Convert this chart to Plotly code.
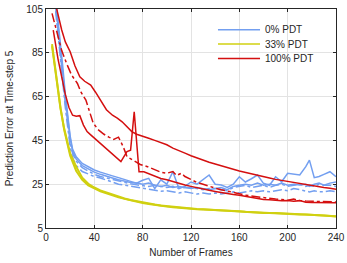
import plotly.graph_objects as go

# ---------------- data ----------------
fr_y = [5, 8, 10, 12, 15, 18, 20, 25, 30, 35, 40, 45, 50, 55, 60, 65, 70, 75, 80, 85, 90, 95, 100,
        105, 110, 115, 120, 125, 130, 135, 140, 145, 150, 155, 160, 165, 170, 175, 180, 185, 190,
        195, 200, 205, 210, 215, 220, 225, 230, 235, 240]
y33_a = [89, 76, 68, 60, 50, 42, 38, 31, 27, 24.5, 23, 21.8, 20.8, 19.8, 19, 18.3, 17.6, 17, 16.4, 16,
         15.5, 15.1, 14.8, 14.5, 14.2, 14.0, 13.8, 13.6, 13.5, 13.4, 13.3, 13.2, 13.1, 12.9, 12.6, 12.4,
         12.2, 12.1, 12.0, 11.9, 11.8, 11.7, 11.5, 11.4, 11.3, 11.1, 11.0, 10.9, 10.7, 10.5, 10.3]
y33_b = [88, 75, 67, 59.5, 50.5, 43, 39, 33, 28, 25.2, 23.5, 22.2, 21.2, 20.2, 19.3, 18.5, 17.8, 17.2, 16.7, 16.2,
         15.7, 15.3, 15.0, 14.6, 14.4, 14.1, 13.9, 13.7, 13.6, 13.4, 13.2, 13.1, 13.0, 12.8, 12.5, 12.4,
         12.3, 12.1, 11.9, 11.9, 11.7, 11.6, 11.5, 11.3, 11.2, 11.2, 11.0, 10.8, 10.7, 10.6, 10.4]

fr_b = [8, 10, 12, 14, 16, 18, 20, 22, 25, 30, 35, 40, 45, 50, 55, 60, 65, 70, 75, 80, 85, 90, 95, 100,
        105, 110, 115, 120, 125, 130, 135, 140, 145, 150, 155, 160, 165, 170, 175, 180, 185, 190, 195,
        200, 205, 210, 215, 218, 222, 226, 230, 235, 240]
b0_solid1 = [110, 100, 88, 78, 66, 55, 47, 41, 37.5, 34.5, 33, 31.5, 30.5, 29.5, 28.8, 28, 27, 26.3, 25.5, 26.8,
             27.7, 23, 27, 25, 30.7, 23, 24, 26, 25, 27, 29.2, 25, 24.6, 23.5, 25, 28.4, 26, 27.5, 29.2,
             25.4, 24.5, 28.4, 26.1, 30, 29.5, 29.2, 33, 36, 28, 28.5, 29.5, 30.7, 28.4]
b0_solid2 = [108, 98, 86, 75, 64, 54, 46, 40, 36.5, 33.5, 32, 30.5, 29.5, 28.5, 27.8, 27, 26.3, 25.8, 25.5, 25,
             25.5, 24.5, 24, 24.5, 23.5, 24, 23.5, 23, 23.5, 23, 22.5, 23, 23.5, 22.5, 24, 24.5, 25, 24.5,
             25.5, 24.5, 25, 24.5, 25.5, 24.5, 25, 24.6, 25, 24, 25, 25.5, 24.5, 25.5, 26]
b0_dash1 = [106, 96, 84, 73, 62, 52, 44, 39, 35.5, 32.5, 31, 29.5, 28.5, 27.8, 27, 26.3, 25.7, 25.2, 24.7, 24.5,
            24, 24.5, 24, 23.5, 24, 23, 23.5, 23.5, 23, 22.5, 23, 23, 22.5, 22, 23.5, 24, 24.5, 23.5, 24,
            24.5, 23.5, 24.5, 25, 24, 24.5, 25, 24, 24.5, 24, 25, 24.5, 24.5, 24]
b0_dash2 = [104, 94, 82, 71, 60, 50, 42, 37, 33.5, 30.8, 29.5, 28.5, 27.8, 27, 26, 25, 24.5, 24, 23.5, 23,
            22.5, 22, 21.8, 22, 21.5, 21, 21.5, 21, 20.5, 21, 20.5, 21, 20.5, 21, 21.5, 21, 21.5, 22,
            21.5, 22, 21.5, 22, 22.5, 22, 23, 22.5, 22, 21.5, 22, 21.5, 21.5, 22, 21.6]

fr_r1 = [8, 10, 13, 16, 20, 24, 28, 32, 37, 41, 45, 50, 55, 59, 63, 67, 71, 75, 80, 85, 90, 95, 100,
         105, 110, 115, 120, 125, 130, 135, 140, 145, 150, 155, 160, 165, 170, 175, 180, 185, 190,
         195, 200, 205, 210, 215, 220, 225, 230, 235, 240]
r100_solid1 = [107, 102, 95.4, 90, 85.5, 79, 74, 72, 70.3, 67, 63.4, 59, 56.5, 55.2, 53.5, 51.3, 49,
               47.8, 47, 46, 45, 44, 43, 41.5, 40.5, 39.2, 38, 37, 35.8, 35, 34.2, 33.5, 32.6, 31.8,
               31, 30.3, 29.6, 29, 28.4, 27.8, 27.2, 26.7, 26.2, 25.7, 25.3, 24.8, 24.4, 24, 23.5, 23.1, 22.7]

fr_r2 = [6, 8, 10, 13, 16, 19, 22, 25, 28, 31, 34, 37, 41, 45, 50, 55, 60, 62, 67, 70, 73, 77, 81, 85,
         90, 95, 100, 105, 110, 115, 120, 125, 130, 135, 140, 145, 150, 155, 160, 165, 170, 175, 180,
         185, 190, 195, 200, 205, 210, 215, 220, 225, 230, 235, 240]
r100_solid2 = [95.4, 88, 82, 74, 66, 60, 56.5, 56, 56.3, 52, 49, 47.5, 45.5, 43.5, 41.4, 38.5, 36, 35.3,
               39.9, 40.5, 58.1, 30.7, 30.7, 29.8, 28.8, 27.6, 27, 26.1, 25.3, 24.6, 24, 23.3, 22.8, 22.2,
               21.7, 21.2, 20.6, 20.3, 20, 19.5, 19.1, 18.6, 18, 17.9, 17.6, 17.4, 17.6, 17.2, 17.5, 16.8,
               16.7, 16.6, 16.5, 16.5, 16.5]

fr_r3 = [5, 10, 13, 17, 21, 26, 29, 33, 36, 39, 43, 48, 52, 56, 60, 64, 67, 72, 78, 84, 90, 95, 100,
         105, 108, 112, 115, 120, 125, 130, 135, 140, 145, 150, 155, 160, 165, 170, 175, 180, 185, 190,
         195, 200, 205, 210, 215, 220, 225, 230, 235, 240]
r100_dash = [103, 92.4, 86, 80.2, 75, 71, 67, 63.4, 58, 53, 50, 47.8, 46.5, 45.5, 46.5, 42, 37.6, 36, 34,
             33, 31.5, 30.5, 30, 30.8, 29, 30, 28.5, 27, 25.8, 25, 24, 23.2, 22.5, 21.8, 21.2, 20.5, 20,
             19.6, 19.2, 18.8, 18.5, 18.2, 18, 17.7, 18.2, 17.5, 17.3, 17.2, 17.1, 17, 17, 16.9]

x_ticks = [0, 40, 80, 120, 160, 200, 240]
y_ticks = [5, 25, 45, 65, 85, 105]
legend_names = ["0% PDT", "33% PDT", "100% PDT"]

BLUE = "#739ff0"
YELLOW = "#d0d010"
RED = "#d40f0f"
TXT = "#262626"
FONT = "Liberation Sans, Arial, sans-serif"

fig = go.Figure()

def add(x, y, color, dash="solid", width=1.5):
    fig.add_trace(go.Scatter(
        x=x, y=y, mode="lines", line=dict(color=color, width=width, dash=dash),
        showlegend=False, hoverinfo="skip"))

add(fr_b, b0_solid1, BLUE)
add(fr_b, b0_solid2, BLUE)
add(fr_b, b0_dash1, BLUE, dash="dashdot")
add(fr_b, b0_dash2, BLUE, dash="dashdot")
add(fr_y, y33_a, YELLOW, width=2)
add(fr_y, y33_b, YELLOW, width=2)
add(fr_r1, r100_solid1, RED)
add(fr_r2, r100_solid2, RED)
add(fr_r3, r100_dash, RED, dash="dashdot")

# manual legend (paper coordinates)
leg_colors = [BLUE, YELLOW, RED]
leg_y = [0.905, 0.840, 0.774]
for name, col, yy in zip(legend_names, leg_colors, leg_y):
    fig.add_shape(type="line", xref="paper", yref="paper", x0=0.593, x1=0.738, y0=yy, y1=yy,
                  line=dict(color=col, width=1.5))
    fig.add_annotation(xref="paper", yref="paper", x=0.748, y=yy, text=name, showarrow=False,
                       xanchor="left", yanchor="middle", font=dict(family=FONT, size=10, color=TXT))

axis_common = dict(
    showline=True, linecolor=TXT, linewidth=1, mirror="ticks",
    ticks="inside", ticklen=3, tickcolor=TXT,
    showgrid=True, gridcolor="#e3e3e3", gridwidth=1, zeroline=False,
    automargin=False,
    tickfont=dict(family=FONT, size=10, color=TXT),
)

fig.update_layout(
    width=347, height=263,
    margin=dict(l=46, r=11, t=9, b=35),
    plot_bgcolor="white", paper_bgcolor="white",
    font=dict(family=FONT, size=10, color=TXT),
    xaxis=dict(range=[0, 240], tickvals=x_ticks,
               title=dict(text="Number of Frames", standoff=6, font=dict(size=10, color=TXT)),
               **axis_common),
    yaxis=dict(range=[5, 105], tickvals=y_ticks,
               title=dict(text="Prediction Error at Time-step 5", standoff=10, font=dict(size=10, color=TXT)),
               **axis_common),
    showlegend=False,
)

fig.write_html("out.html", config={"displayModeBar": False},
               post_script="document.body.style.margin='0';")
